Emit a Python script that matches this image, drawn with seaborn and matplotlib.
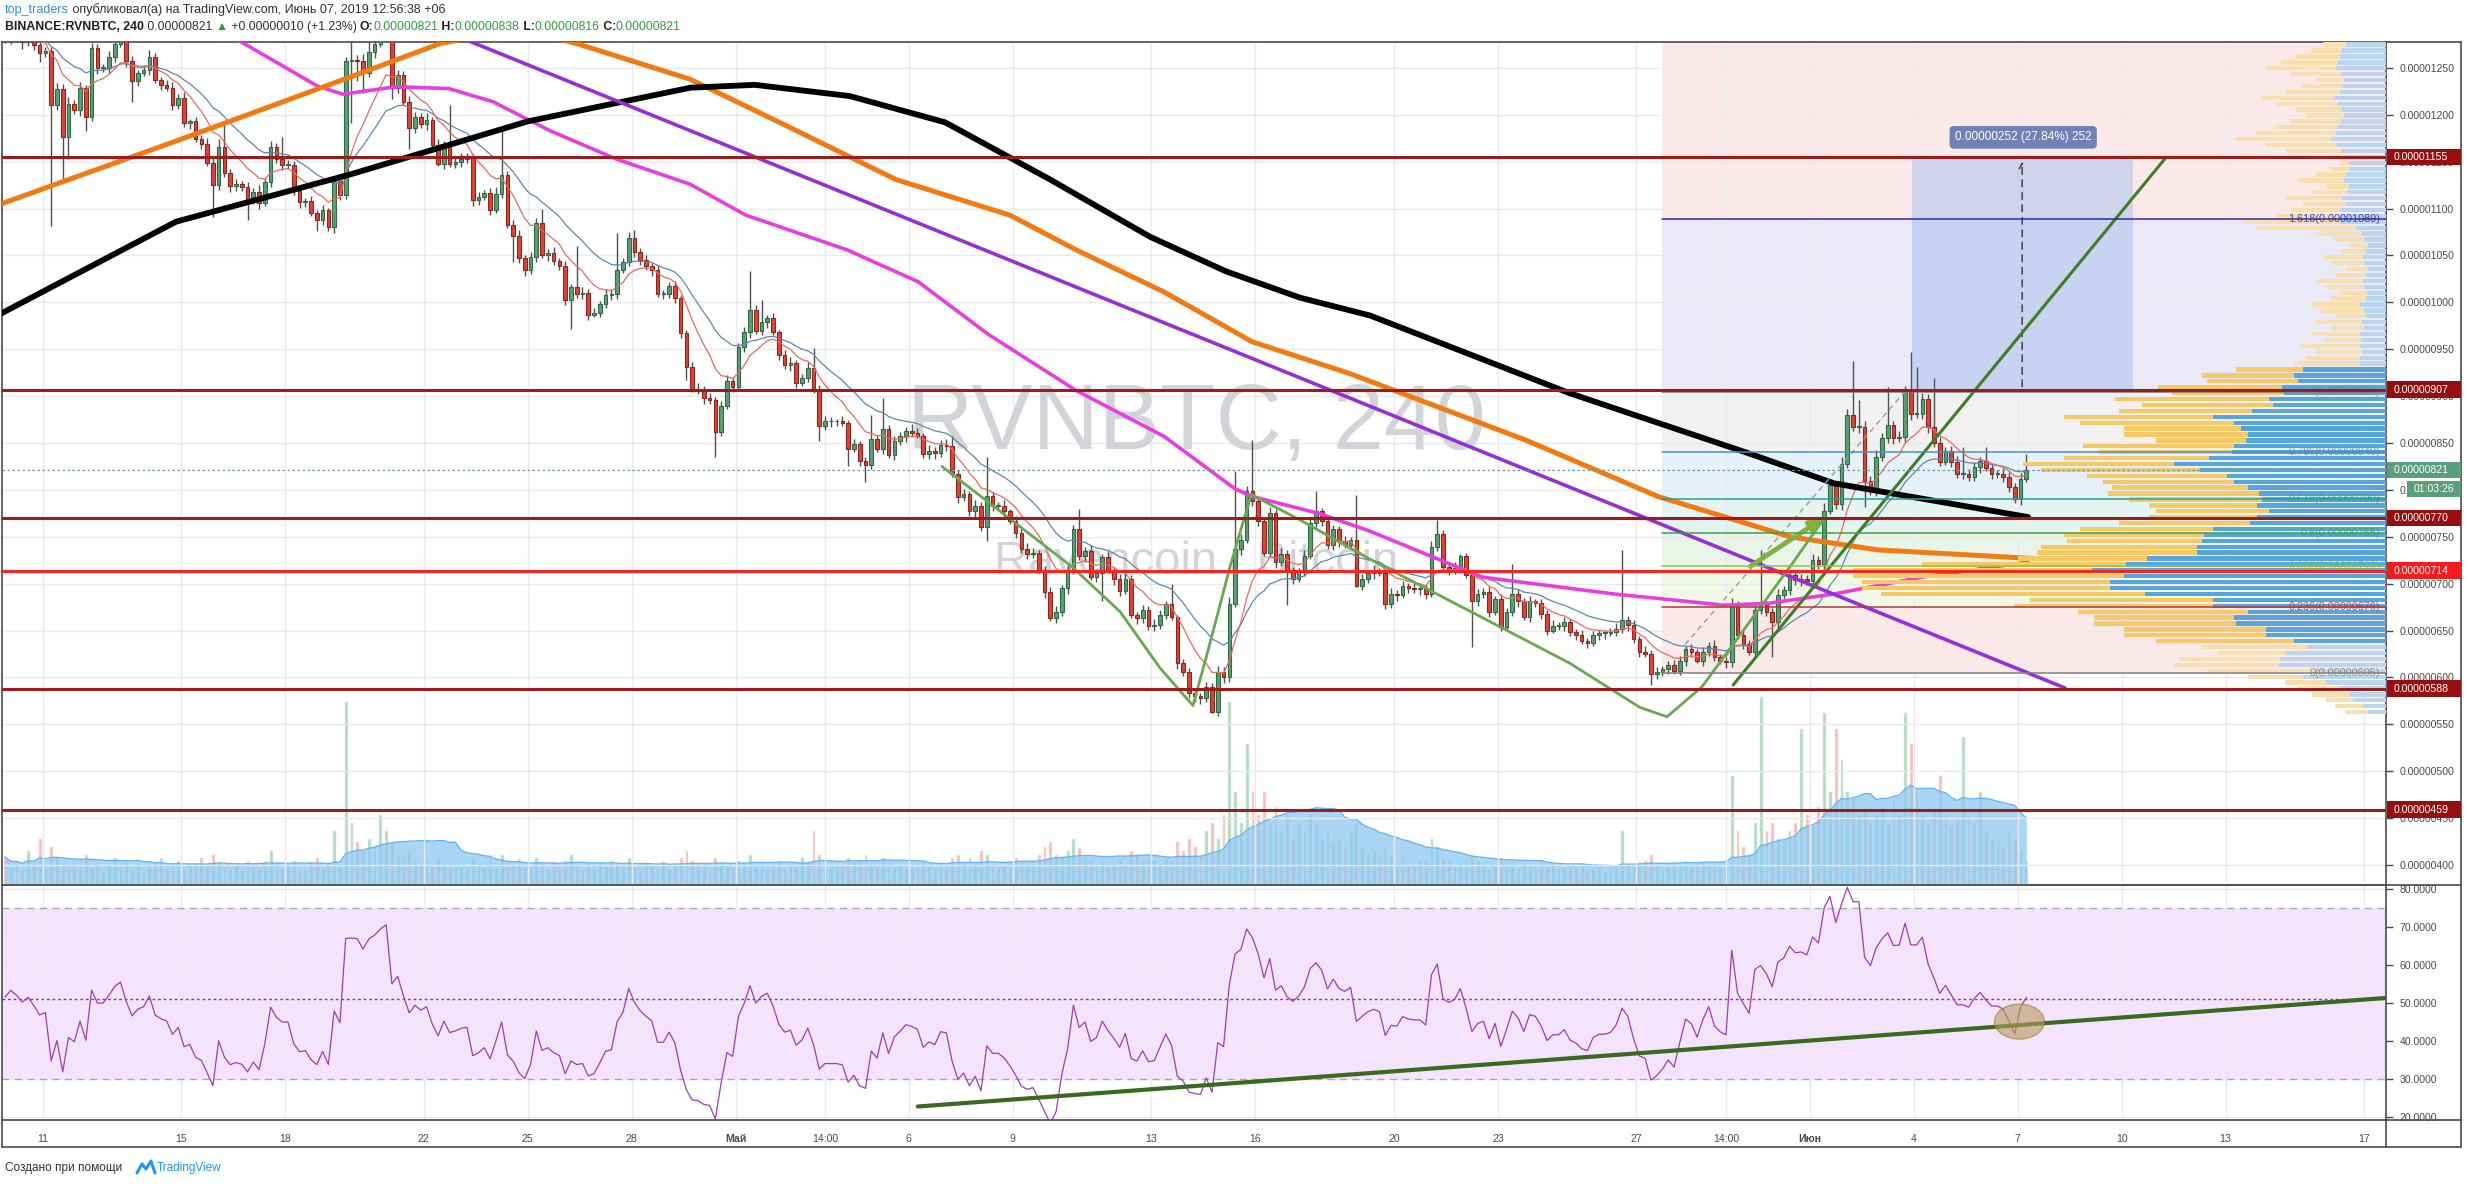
import numpy as np
import pandas as pd
import matplotlib
matplotlib.use("Agg")
import matplotlib.pyplot as plt
import seaborn as sns
from matplotlib.patches import Rectangle, Ellipse
from matplotlib.lines import Line2D
from matplotlib.text import Annotation
from matplotlib.transforms import blended_transform_factory

sns.set_style("white")
plt.rcParams["font.family"] = ["Liberation Sans", "DejaVu Sans"]

W, H = 2468, 1184

# ---- price data, RVNBTC 4h candles, in satoshi (1e-8 BTC) ----
LAST_DAY = 67.25          # days since 1 April 2019 of the last candle
FIRST_OPEN = 1288
CLOSE = [
    1282, 1290, 1285, 1278, 1283, 1275, 1266, 1268, 1210, 1228,
    1176, 1212, 1205, 1229, 1198, 1271, 1250, 1250, 1262, 1276,
    1283, 1257, 1236, 1245, 1248, 1262, 1237, 1232, 1229, 1211,
    1218, 1191, 1193, 1174, 1169, 1149, 1125, 1166, 1138, 1124,
    1126, 1123, 1110, 1118, 1106, 1128, 1166, 1153, 1147, 1147,
    1119, 1107, 1108, 1095, 1088, 1098, 1080, 1129, 1114, 1257,
    1258, 1257, 1245, 1267, 1276, 1290, 1300, 1229, 1243, 1214,
    1186, 1198, 1190, 1195, 1168, 1148, 1167, 1148, 1150, 1153,
    1154, 1109, 1112, 1117, 1099, 1116, 1136, 1083, 1071, 1047,
    1034, 1048, 1085, 1050, 1053, 1044, 1039, 1003, 1016, 1009,
    1010, 987, 989, 998, 1008, 1009, 1034, 1043, 1069, 1054,
    1045, 1039, 1034, 1009, 1009, 1017, 1005, 967, 931, 908,
    907, 898, 896, 862, 889, 916, 910, 952, 968, 992,
    970, 979, 983, 968, 944, 933, 935, 914, 919, 930,
    908, 868, 873, 873, 873, 871, 844, 849, 831, 827,
    854, 844, 865, 837, 852, 857, 863, 861, 858, 838,
    842, 839, 848, 847, 817, 792, 796, 777, 783, 760,
    793, 783, 783, 777, 767, 754, 737, 732, 733, 715,
    691, 663, 670, 695, 715, 758, 729, 735, 707, 711,
    728, 715, 705, 692, 705, 667, 663, 672, 655, 656,
    667, 678, 664, 615, 606, 583, 580, 578, 590, 563,
    606, 600, 678, 737, 747, 799, 788, 767, 733, 775,
    723, 732, 713, 705, 714, 730, 765, 777, 767, 741,
    758, 745, 741, 747, 698, 705, 711, 714, 711, 678,
    689, 688, 698, 695, 694, 694, 689, 739, 753, 718,
    714, 717, 729, 709, 681, 689, 691, 670, 684, 654,
    670, 689, 681, 664, 681, 679, 668, 650, 655, 655,
    659, 648, 645, 639, 637, 645, 647, 647, 648, 652,
    661, 656, 641, 627, 625, 604, 606, 609, 613, 607,
    618, 630, 627, 618, 627, 634, 622, 618, 616, 677,
    645, 636, 627, 672, 677, 670, 659, 688, 693, 709,
    704, 705, 703, 725, 721, 778, 805, 785, 828, 880,
    867, 867, 810, 800, 835, 855, 869, 855, 856, 905,
    881, 881, 897, 867, 850, 830, 842, 830, 817, 817,
    814, 824, 831, 823, 817, 817, 814, 803, 790, 812,
    821,
]
UPPER_WICK = [
    6, 5, 8, 4, 6, 5, 3, 4, 4, 6,
    5, 7, 4, 6, 3, 6, 5, 4, 6, 8,
    5, 4, 6, 3, 5, 7, 4, 3, 5, 6,
    4, 6, 3, 5, 4, 6, 5, 8, 27, 4,
    6, 3, 5, 4, 7, 5, 6, 4, 23, 5,
    4, 6, 3, 5, 4, 6, 3, 5, 4, 5,
    30, 6, 8, 15, 20, 10, 10, 6, 5, 4,
    6, 5, 4, 7, 3, 6, 5, 43, 4, 6,
    5, 4, 6, 3, 5, 7, 52, 4, 5, 6,
    4, 6, 5, 15, 4, 6, 3, 5, 4, 44,
    6, 4, 5, 3, 6, 5, 40, 4, 6, 8,
    4, 5, 3, 6, 4, 5, 6, 3, 4, 5,
    6, 4, 5, 3, 6, 7, 4, 5, 6, 41,
    5, 24, 4, 6, 3, 5, 7, 4, 5, 6,
    21, 4, 6, 5, 3, 6, 4, 5, 3, 4,
    26, 5, 33, 4, 6, 5, 4, 7, 5, 3,
    6, 4, 5, 6, 10, 4, 5, 3, 6, 4,
    42, 5, 4, 6, 3, 5, 4, 6, 5, 3,
    4, 5, 6, 4, 7, 5, 22, 4, 6, 5,
    4, 6, 3, 5, 6, 4, 3, 5, 4, 6,
    5, 4, 22, 3, 5, 4, 6, 3, 5, 4,
    6, 5, 8, 83, 6, 5, 54, 6, 4, 7,
    5, 6, 4, 5, 3, 6, 5, 22, 4, 6,
    5, 4, 6, 3, 48, 5, 4, 6, 3, 5,
    6, 4, 5, 3, 6, 4, 5, 7, 15, 4,
    5, 6, 3, 4, 6, 5, 4, 6, 3, 5,
    4, 32, 5, 4, 6, 3, 5, 4, 6, 4,
    5, 3, 4, 6, 3, 5, 4, 3, 5, 6,
    75, 4, 5, 3, 6, 4, 5, 3, 4, 6,
    5, 4, 6, 3, 5, 4, 6, 3, 4, 8,
    5, 6, 4, 7, 59, 5, 4, 6, 5, 4,
    6, 5, 4, 7, 5, 8, 6, 5, 7, 6,
    57, 29, 6, 5, 8, 6, 41, 5, 7, 6,
    42, 50, 6, 5, 52, 6, 4, 5, 6, 29,
    5, 6, 4, 15, 5, 4, 6, 5, 4, 6,
    17,
]
LOWER_WICK = [
    5, 6, 4, 8, 5, 6, 10, 4, 129, 5,
    45, 23, 4, 6, 15, 5, 6, 4, 5, 6,
    4, 6, 22, 5, 4, 6, 3, 5, 4, 6,
    5, 4, 6, 3, 5, 4, 34, 5, 4, 6,
    5, 4, 22, 5, 6, 3, 5, 4, 6, 5,
    4, 6, 5, 3, 12, 5, 4, 6, 5, 4,
    66, 21, 22, 5, 6, 4, 5, 12, 6, 4,
    22, 5, 4, 6, 5, 3, 6, 4, 5, 6,
    4, 6, 5, 3, 6, 4, 5, 4, 28, 5,
    6, 4, 5, 3, 6, 4, 5, 6, 31, 4,
    5, 6, 3, 5, 4, 6, 5, 3, 4, 6,
    5, 4, 6, 3, 5, 4, 6, 5, 14, 4,
    5, 6, 4, 27, 5, 3, 6, 4, 5, 6,
    4, 5, 6, 3, 5, 4, 6, 5, 3, 4,
    5, 16, 4, 6, 5, 3, 19, 4, 6, 19,
    5, 4, 6, 3, 5, 4, 6, 5, 3, 4,
    5, 6, 4, 5, 3, 6, 4, 5, 6, 4,
    15, 5, 4, 6, 3, 5, 4, 6, 5, 4,
    6, 3, 5, 4, 6, 5, 4, 6, 3, 5,
    30, 4, 6, 5, 3, 4, 6, 5, 4, 6,
    4, 5, 3, 6, 4, 5, 6, 6, 4, 1,
    4, 6, 5, 3, 6, 4, 5, 6, 4, 5,
    6, 4, 36, 5, 3, 6, 4, 5, 6, 4,
    5, 6, 3, 4, 2, 5, 4, 6, 3, 5,
    4, 6, 3, 5, 4, 6, 5, 3, 4, 6,
    5, 4, 6, 3, 49, 5, 4, 6, 3, 5,
    4, 5, 6, 3, 5, 4, 6, 5, 3, 4,
    6, 4, 5, 3, 6, 4, 5, 6, 3, 4,
    5, 6, 4, 5, 3, 12, 6, 4, 5, 3,
    4, 6, 5, 3, 6, 4, 5, 4, 6, 5,
    4, 6, 3, 5, 4, 5, 37, 6, 4, 5,
    5, 6, 4, 3, 5, 6, 4, 5, 6, 5,
    4, 6, 28, 5, 6, 4, 5, 6, 4, 5,
    6, 4, 5, 6, 4, 5, 3, 6, 4, 5,
    4, 5, 6, 3, 5, 4, 6, 5, 4, 6,
    4,
]
VOLUME = [
    18, 12, 15, 10, 22, 14, 30, 12, 25, 18,
    14, 10, 16, 12, 20, 11, 15, 9, 13, 18,
    12, 16, 10, 14, 9, 12, 15, 18, 11, 13,
    16, 10, 12, 14, 18, 13, 20, 15, 12, 10,
    14, 11, 16, 12, 10, 15, 22, 13, 11, 14,
    16, 12, 10, 15, 18, 11, 14, 35, 12, 117,
    40, 28, 22, 30, 25, 45, 35, 28, 20, 18,
    22, 15, 13, 16, 12, 18, 14, 11, 15, 12,
    10, 18, 14, 12, 16, 11, 20, 15, 13, 17,
    12, 10, 18, 14, 11, 15, 12, 16, 20, 13,
    11, 14, 10, 15, 12, 16, 13, 11, 18, 12,
    10, 14, 12, 11, 15, 10, 13, 18, 22, 16,
    14, 12, 10, 18, 15, 13, 11, 16, 14, 20,
    12, 15, 10, 13, 16, 11, 14, 12, 18, 15,
    35, 20, 14, 12, 10, 13, 18, 15, 16, 20,
    14, 12, 18, 15, 11, 13, 10, 12, 14, 16,
    12, 10, 13, 11, 18, 20, 15, 18, 14, 22,
    20, 14, 11, 13, 15, 18, 16, 12, 14, 20,
    25, 28, 20, 18, 22, 30, 24, 18, 16, 14,
    15, 12, 14, 18, 13, 22, 20, 15, 18, 16,
    14, 18, 16, 28, 22, 30, 25, 20, 35, 40,
    30, 45, 117, 60, 40, 90, 60, 45, 60, 40,
    50, 35, 45, 30, 40, 35, 45, 40, 30, 35,
    28, 30, 25, 35, 40, 25, 20, 22, 18, 25,
    20, 15, 18, 14, 12, 15, 16, 30, 25, 18,
    15, 13, 14, 12, 20, 16, 13, 11, 14, 18,
    12, 15, 11, 14, 10, 13, 16, 12, 14, 11,
    10, 13, 12, 14, 11, 10, 12, 9, 11, 13,
    35, 14, 12, 15, 16, 20, 13, 11, 12, 14,
    13, 16, 12, 14, 15, 13, 11, 12, 14, 70,
    35, 25, 20, 40, 120, 35, 40, 30, 28, 35,
    40, 100, 45, 38, 50, 110, 60, 100, 80, 60,
    55, 45, 50, 40, 45, 50, 40, 55, 45, 110,
    90, 60, 45, 40, 50, 70, 45, 38, 42, 95,
    45, 40, 60, 35, 30, 28, 25, 35, 30, 22,
    15,
]
# Wilder averages carried in from before the visible window
RSI_SEED_GAIN, RSI_SEED_LOSS = 9.0, 8.0

# moving averages (day, price)
BLACK_DAYS = [8.8, 13.85, 18.93, 24.0, 28.7, 30.56, 33.3, 36.05, 39.08, 41.96,
              44.16, 46.29, 48.31, 54.08, 59.16, 61.7, 67.3]
BLACK_VALS = [988, 1086, 1137, 1193, 1229, 1232, 1220, 1192, 1131, 1070,
              1033, 1005, 986, 903, 840, 807, 771]
ORANGE_DAYS = [8.8, 13.85, 18.93, 21.47, 23.69, 25.42, 28.69, 31.49, 34.63, 37.92,
               39.83, 42.37, 44.91, 47.73, 52.81, 56.62, 60.43, 62.97, 67.36]
ORANGE_VALS = [1105, 1172, 1241, 1276, 1292, 1276, 1238, 1188, 1131, 1093,
               1056, 1011, 958, 924, 853, 793, 750, 736, 727]
MAGENTA_DAYS = [14.55, 15.82, 17.92, 18.67, 20.2, 21.73, 23.0, 24.65, 26.55, 28.69,
                30.3, 33.22, 35.27, 37.29, 39.83, 42.37, 44.42, 44.91, 46.82, 48.31,
                51.54, 55.35, 58.53, 59.8, 61.7, 64.24, 67.3]
MAGENTA_VALS = [1300, 1276, 1231, 1222, 1230, 1228, 1214, 1183, 1153, 1126,
                1093, 1056, 1022, 966, 906, 857, 801, 793, 775, 756,
                707, 689, 677, 679, 689, 707, 723]
CURVE_DAYS = [35.96, 39.71, 41.1, 42.25, 43.2, 43.63, 44.27, 44.88, 46.29, 48.31,
              51.54, 54.08, 56.1, 56.88, 57.89, 59.16, 60.43, 61.44]
CURVE_VALS = [825, 718, 670, 610, 570, 628, 718, 795, 768, 726,
              664, 615, 568, 558, 590, 654, 718, 771]

# horizontal levels
LEVELS_DARK = [1155, 907, 770, 588, 459]
LEVEL_BRIGHT = 714
LAST_PRICE = 821

FIB_START = 56.74
FIB_PRICES = [605, 675.6, 719.2, 754.5, 789.8, 840, 904, 1088.8]
FIB_LABELS = ["0(0.00000605)", "0.236(0.00000676)", "0.382(0.00000719)",
              "0.5(0.00000755)", "0.618(0.00000790)", "0.786(0.00000840)",
              "1(0.00000904)", "1.618(0.00001089)"]

# volume profile rows (bottom to top), lengths in px from the right edge
VP_TOTAL = [40, 51, 60, 74, 88, 101, 138, 179, 212, 207,
            168, 184, 230, 262, 262, 292, 292, 308, 372, 356,
            505, 524, 524, 533, 533, 464, 368, 349, 345, 319,
            322, 306, 267, 237, 230, 237, 257, 278, 274, 283,
            299, 345, 363, 322, 287, 303, 230, 262, 262, 306,
            322, 267, 244, 271, 214, 228, 179, 184, 150, 92,
            80, 70, 85, 60, 75, 55, 70, 50, 65, 74,
            55, 46, 60, 69, 50, 40, 55, 62, 45, 37,
            52, 69, 129, 143, 111, 95, 83, 101, 75, 60,
            88, 70, 55, 46, 80, 100, 120, 150, 130, 110,
            95, 80, 90, 110, 125, 100, 85, 70, 95, 120,
            105, 90, 75, 63]
VP_BLUE = [18, 23, 33, 37, 46, 60, 83, 69, 108, 106,
           101, 78, 92, 120, 120, 150, 152, 138, 173, 173,
           241, 276, 276, 262, 294, 260, 239, 189, 189, 184,
           182, 173, 136, 129, 117, 129, 124, 127, 138, 152,
           159, 186, 212, 177, 154, 152, 140, 138, 145, 152,
           173, 134, 113, 117, 102, 104, 88, 92, 83, 26,
           26, 24, 26, 25, 26, 22, 24, 20, 22, 26,
           20, 19, 22, 23, 20, 18, 22, 23, 20, 18,
           22, 24, 30, 46, 46, 46, 40, 44, 38, 37,
           42, 40, 37, 37, 42, 45, 50, 55, 50, 48,
           45, 42, 44, 48, 52, 46, 44, 42, 45, 50,
           48, 46, 44, 40]
VP_FIRST, VP_STEP = 563, 6.3
VA_LOW, VA_HIGH = 636, 930

# annotations
RSI_LINE_DAYS = [35.26, 77.6]
RSI_LINE_VALS = [22.75, 51.3]
TICK_DAYS = [10, 14, 17, 21, 24, 27, 30, 32.583, 35, 38, 42, 45, 49, 52, 56,
             58.583, 61, 64, 67, 70, 73, 77]
TICK_LABELS = ["11", "15", "18", "22", "25", "28", "Май", "14:00", "6", "9", "13",
               "16", "20", "23", "27", "14:00", "Июн", "4", "7", "10", "13", "17"]

# ---- derived series ----
n = len(CLOSE)
close = np.array(CLOSE, dtype=float)
opens = np.r_[FIRST_OPEN, close[:-1]]
highs = np.maximum(opens, close) + np.array(UPPER_WICK[:n])
lows = np.minimum(opens, close) - np.array(LOWER_WICK[:n])
days = LAST_DAY - (n - 1 - np.arange(n)) / 6.0
up = close >= opens
s = pd.Series(close)
ema_fast = s.ewm(span=10, adjust=False).mean()
ema_slow = s.ewm(span=21, adjust=False).mean()

# Wilder RSI(14)
avg_g, avg_l = RSI_SEED_GAIN, RSI_SEED_LOSS
rsi = []
for ch in close - opens:
    avg_g = (avg_g * 13 + max(ch, 0)) / 14
    avg_l = (avg_l * 13 + max(-ch, 0)) / 14
    rsi.append(100 - 100 / (1 + avg_g / avg_l))
rsi = np.array(rsi)

vol = pd.Series(VOLUME[:n], dtype=float)
vol_ma = vol.rolling(20, min_periods=1).mean()

# ---- figure ----
fig = plt.figure(figsize=(W / 100, H / 100), dpi=100)
fig.patch.set_facecolor("white")


def fx(px):
    return px / W


def fy(py):
    return 1 - py / H


XMIN, XMAX = 8.831, 77.63
YMIN, YMAX = 378.6, 1277.7
ax = fig.add_axes([fx(2), fy(885), (2386 - 2) / W, (885 - 42) / H])
ax_r = fig.add_axes([fx(2), fy(1120), (2386 - 2) / W, (1120 - 885) / H])
ax_v = ax.twinx()
ax_vp = ax.twiny()
ax_v.set_zorder(0)
ax.set_zorder(1)
ax_vp.set_zorder(2)
ax.patch.set_visible(False)
ax_vp.patch.set_visible(False)
for a in (ax_v, ax_vp):
    a.set_axis_off()

GRID = "#e9e9ee"
AXC = "#4a4a4a"
for a in (ax, ax_r):
    a.set_xlim(XMIN, XMAX)
    a.set_xticks(TICK_DAYS)
    a.grid(True, color=GRID, lw=1)
    a.set_axisbelow(True)
    for sp in a.spines.values():
        sp.set_color(AXC)
        sp.set_linewidth(1.2)
    a.yaxis.tick_right()
    a.tick_params(axis="y", direction="out", length=5, width=1, pad=5,
                  labelsize=7.6, colors=AXC)

ax.set_ylim(YMIN, YMAX)
price_ticks = np.arange(400, 1251, 50)
# the 800 label is mostly hidden behind the countdown box, only "0." shows
ax.set_yticks(price_ticks)
ax.set_yticklabels(["0." if v == 800 else f"{v / 1e8:.8f}" for v in price_ticks])
ax.tick_params(axis="x", length=0, labelbottom=False)

# fib background bands
fib_frac = (FIB_START - XMIN) / (XMAX - XMIN)
BAND_COLORS = ["#fbe9e9", "#f2f8e6", "#e8f5e8", "#e3f4f1", "#e7f1fa", "#f1f1f1", "#e9e9f8", "#fbe9e9"]
edges = FIB_PRICES + [YMAX]
for i in range(len(FIB_PRICES)):
    ax.axhspan(edges[i], edges[i + 1], xmin=fib_frac, xmax=1, color=BAND_COLORS[i], lw=0, zorder=0.2)

# watermark
ax.text(43.29, 869, "RVNBTC, 240", fontsize=66, color="#d3d4d9", ha="center", va="center", zorder=0.6)
ax.text(43.29, 723, "Ravencoin / Bitcoin", fontsize=34, color="#d3d4d9", ha="center", va="center", zorder=0.6)

# price range tool
ax.add_patch(Rectangle((63.96, 907), 6.36, 248, fc="#9fb9ee", ec="none", alpha=0.45, zorder=1.5))
ax.plot([63.96, 70.32], [1155, 1155], color="#6d6d6d", lw=1.4, zorder=1.6)
ax.annotate("", xy=(67.13, 1153), xytext=(67.13, 907),
            arrowprops=dict(arrowstyle="->", color="#333333", lw=1, linestyle=(0, (5, 4))), zorder=1.7)
ax.text(67.16, 1176, "0.00000252 (27.84%) 252", ha="center", va="center", color="white", fontsize=8.5,
        zorder=6, bbox=dict(boxstyle="round,pad=0.45,rounding_size=0.35", fc="#6f82b3", ec="none"))

# candles
ax.vlines(days, lows, highs, color="#505050", lw=1, zorder=2.8)
body_lo = np.minimum(opens, close)
body_h = np.maximum(np.abs(close - opens), 1.0)
ax.bar(days[up], body_h[up], bottom=body_lo[up], width=0.105, color="#5d9e76",
       edgecolor="#2f6a45", lw=0.8, zorder=3)
ax.bar(days[~up], body_h[~up], bottom=body_lo[~up], width=0.105, color="#d6463a",
       edgecolor="#8d261c", lw=0.8, zorder=3)

# moving averages
sns.lineplot(x=days, y=ema_slow.values, ax=ax, color="#5d87ad", lw=0.9, zorder=3.5)
sns.lineplot(x=days, y=ema_fast.values, ax=ax, color="#ea6a5e", lw=0.9, zorder=3.6)
sns.lineplot(x=MAGENTA_DAYS, y=MAGENTA_VALS, ax=ax, color="#e83ee0", lw=2.6, zorder=4)
sns.lineplot(x=ORANGE_DAYS, y=ORANGE_VALS, ax=ax, color="#f27a14", lw=3.6, zorder=4.1)
sns.lineplot(x=BLACK_DAYS, y=BLACK_VALS, ax=ax, color="#000000", lw=4.2, zorder=4.2)

# drawings
ax.plot([22.16, 68.37], [1281, 588.7], color="#9430d8", lw=2.6, zorder=4.5)
sns.lineplot(x=CURVE_DAYS, y=CURVE_VALS, ax=ax, color="#6aa84f", lw=2, zorder=4.6)
ax.plot([58.79, 71.29], [592, 1155], color="#3f7d26", lw=2.2, zorder=4.7)
ax.plot([57.4, 63.75], [635, 905], color="#9a9a9a", lw=1, ls=(0, (4, 3)), zorder=4.4)
ax.annotate("", xy=(61.44, 771), xytext=(59.22, 717), zorder=4.8,
            arrowprops=dict(arrowstyle="-|>,head_length=0.7,head_width=0.35", color="#7cb342", lw=3.5))

# volume
ax_v.set_ylim(0, 536)
vc = np.where(up, "#9fd3b3", "#f2b1ab")
ax_v.bar(days, vol.values, width=0.11, color=vc, alpha=0.8, zorder=1)
ax_v.fill_between(days, 0, vol_ma.values, color="#8ec9f2", alpha=0.75, lw=0, zorder=2)
ax_v.plot(days, vol_ma.values, color="#6ab4ea", lw=1, zorder=2.1)

# volume profile (x measured in px from the right edge)
ax_vp.set_xlim(2384, 0)
rows = VP_FIRST + VP_STEP * np.arange(len(VP_TOTAL))
blue = np.array(VP_BLUE, dtype=float)
yel = np.array(VP_TOTAL, dtype=float) - blue
inside = (rows >= VA_LOW) & (rows <= VA_HIGH)
ax_vp.barh(rows, blue, left=0, height=4.6, color=np.where(inside, "#58a5dc", "#bcd5ee"), lw=0, zorder=1)
ax_vp.barh(rows, yel, left=blue, height=4.6, color=np.where(inside, "#f6c866", "#f8dfb0"), lw=0, zorder=1)

# fib level lines and labels
FIB_COLORS = ["#808080", "#b03a3a", "#8bc34a", "#43a047", "#1fa596", "#4a90c2", "#808080", "#2a2aa0"]
for p, c, lab in zip(FIB_PRICES, FIB_COLORS, FIB_LABELS):
    ax_vp.axhline(p, xmin=fib_frac, xmax=1, color=c, lw=1.1, zorder=3)
    ax_vp.text(6, p, lab, color=c, fontsize=7.8, ha="right", va="center", zorder=3.5, alpha=0.85)

# horizontal levels and current price line
for lv in LEVELS_DARK:
    ax_vp.axhline(lv, color="#9e1b1b", lw=2.2, zorder=4)
ax_vp.axhline(LEVEL_BRIGHT, color="#ff2020", lw=2.2, zorder=4)
ax_vp.axhline(LAST_PRICE, color="#6f9a9a", lw=0.9, ls=(0, (2, 2)), zorder=4)

# right axis labels
tr = blended_transform_factory(ax_vp.transAxes, ax_vp.transData)
px_w = 2384.0


def axis_box(price, text, color, x0=1, x1=75, tc="white"):
    h = 16.5 / 0.9376
    ax_vp.add_patch(Rectangle((1 + x0 / px_w, price - h / 2), (x1 - x0) / px_w, h, transform=tr,
                              fc=color, ec="none", clip_on=False, zorder=10))
    ax_vp.text(1 + (x0 + 7) / px_w, price, text, transform=tr, color=tc, fontsize=7.6,
               ha="left", va="center", clip_on=False, zorder=11)


for lv in LEVELS_DARK:
    axis_box(lv, f"{lv / 1e8:.8f}", "#960f0f")
axis_box(LEVEL_BRIGHT, f"{LEVEL_BRIGHT / 1e8:.8f}", "#f31b1b")
axis_box(LAST_PRICE, f"{LAST_PRICE / 1e8:.8f}", "#5c9d7c")
axis_box(801, "01:03:26", "#5c9d7c", x0=21, x1=75)

# RSI pane
ax_r.set_ylim(19.2, 81.05)
ax_r.set_yticks(np.arange(20, 81, 10))
ax_r.set_yticklabels([f"{v:.4f}" for v in np.arange(20, 81, 10)])
ax_r.axhspan(30, 75, color="#f3e3fc", lw=0, zorder=0.1)
ax_r.axhline(75, color="#a8a8a8", lw=1, ls=(0, (5, 4)), zorder=1)
ax_r.axhline(30, color="#a8a8a8", lw=1, ls=(0, (5, 4)), zorder=1)
ax_r.axhline(51, color="#8a3a9c", lw=1.0, ls=(0, (2, 2)), zorder=1)
sns.lineplot(x=days, y=rsi, ax=ax_r, color="#9a3fb5", lw=0.9, zorder=2)
ax_r.plot(RSI_LINE_DAYS, RSI_LINE_VALS, color="#3a6a20", lw=3, zorder=3)
ax_r.add_patch(Ellipse((67.05, 45.1), 1.44, 9.2, fc="#b89b5e", ec="#9a7d3a", alpha=0.6, lw=1, zorder=4))
ax_r.set_xticklabels(TICK_LABELS)
ax_r.tick_params(axis="x", direction="out", length=5, width=1, pad=5, labelsize=7.6, colors=AXC)
for t in ax_r.get_xticklabels():
    if t.get_text() in ("Май", "Июн"):
        t.set_fontweight("bold")
for a in (ax, ax_r):
    a.set_xlabel("")
    a.set_ylabel("")

# frame around the axis strips
for (x0, y0, x1, y1) in [(2386, 42, 2461, 42), (2461, 42, 2461, 1147), (2, 1147, 2461, 1147),
                         (2, 1120, 2, 1147), (2386, 885, 2461, 885), (2386, 1120, 2461, 1120),
                         (2386, 1120, 2386, 1147)]:
    fig.add_artist(Line2D([fx(x0), fx(x1)], [fy(y0), fy(y1)], color=AXC, lw=1.2))

# header
GREEN = "#2f9e3f"


def chain(parts, x, y, size):
    prev = None
    for txt, col, wt in parts:
        if prev is None:
            prev = fig.text(fx(x), fy(y), txt, color=col, fontweight=wt, fontsize=size, ha="left", va="center")
        else:
            prev = fig.add_artist(Annotation(txt, xy=(1, 0.5), xycoords=prev, color=col, fontweight=wt,
                                             fontsize=size, ha="left", va="center"))


chain([("top_traders", "#2f8fd8", "normal"),
       (" опубликовал(а) на TradingView.com, Июнь 07, 2019 12:56:38 +06", "#303030", "normal")], 5, 10, 9)
chain([("BINANCE:RVNBTC, 240", "#202020", "bold"), (" 0.00000821 ", "#303030", "normal"),
       ("▲", "#1fa33b", "normal"), (" +0.00000010 (+1.23%) ", "#303030", "normal"),
       ("O:", "#202020", "bold"), ("0.00000821", GREEN, "normal"),
       (" H:", "#202020", "bold"), ("0.00000838", GREEN, "normal"),
       (" L:", "#202020", "bold"), ("0.00000816", GREEN, "normal"),
       (" C:", "#202020", "bold"), ("0.00000821", GREEN, "normal")], 5, 27, 8.8)

# footer
fig.text(fx(5), fy(1168), "Создано при помощи", fontsize=8.5, color="#303030", ha="left", va="center")
fig.add_artist(Line2D([fx(137), fx(142), fx(146), fx(151), fx(155)],
                      [fy(1173), fy(1164), fy(1169), fy(1161), fy(1173)], color="#2196f3", lw=2.2))
fig.text(fx(157), fy(1168), "TradingView", fontsize=8.5, color="#2196f3", ha="left", va="center")

fig.savefig("out.png", dpi=100, facecolor="white")
